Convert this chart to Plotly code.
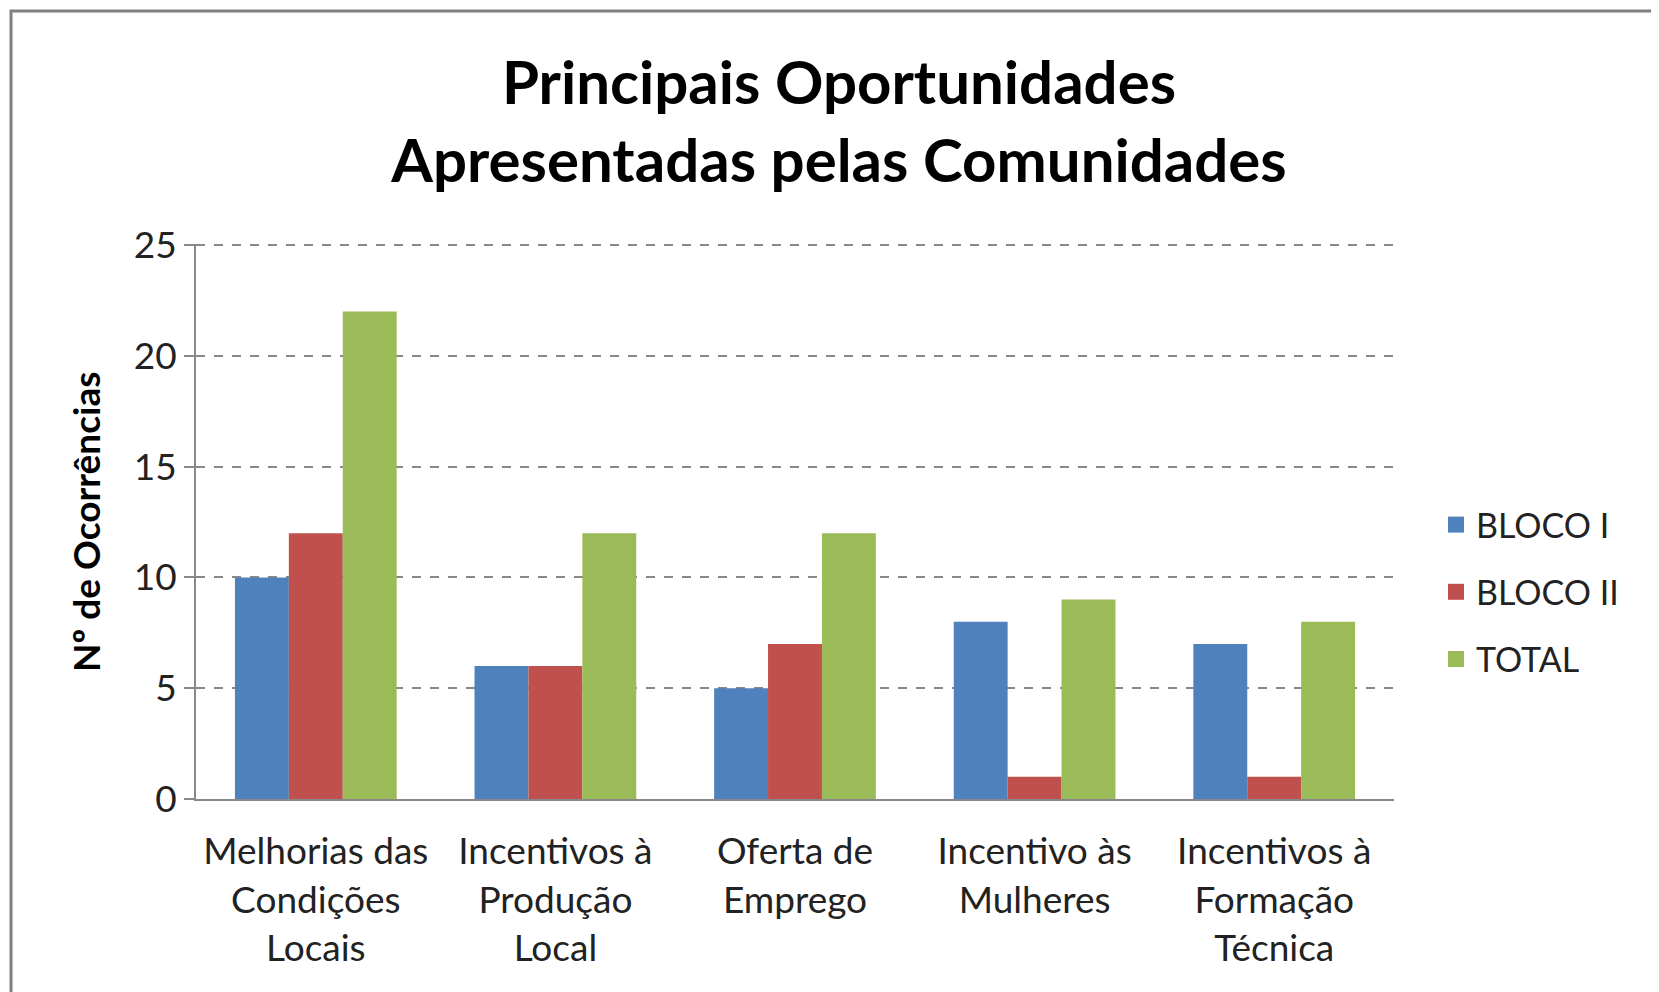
import plotly.graph_objects as go

categories = ["Melhorias das<br>Condições<br>Locais", "Incentivos à<br>Produção<br>Local",
              "Oferta de<br>Emprego", "Incentivo às<br>Mulheres", "Incentivos à<br>Formação<br>Técnica"]
bloco1 = [10, 6, 5, 8, 7]
bloco2 = [12, 6, 7, 1, 1]
total = [22, 12, 12, 9, 8]
series_names = ["BLOCO I", "BLOCO II", "TOTAL"]
colors = ["#4F81BD", "#C0504D", "#9BBB59"]
yticks = [0, 5, 10, 15, 20, 25]

W, H = 1659, 992
L, R, T, B = 188, 1386, 236, 791  # plot area in figure pixels

def px(x):
    return (x - L) / (R - L)

def py(y):
    return (B - y) / (B - T)

fig = go.Figure()
for name, vals, col in zip(series_names, [bloco1, bloco2, total], colors):
    fig.add_trace(go.Bar(x=categories, y=vals, name=name, marker_color=col,
                         marker_line_width=0, showlegend=False))
# legend entries with larger square symbols
for name, col in zip(series_names, colors):
    fig.add_trace(go.Scatter(x=[None], y=[None], mode="markers", name=name,
                             marker=dict(symbol="square", size=16, color=col),
                             legendgroup=name, showlegend=True))

font = "Lato, Calibri, Arial, sans-serif"
fig.update_layout(
    width=W, height=H,
    margin=dict(l=L, r=W - R, t=T, b=H - B),
    paper_bgcolor="white", plot_bgcolor="white",
    barmode="group", bargap=0.325, bargroupgap=0,
    font=dict(family=font, size=34, color="#222"),
    title=dict(text="<b>Principais Oportunidades<br>Apresentadas pelas Comunidades</b>",
               x=831 / W, xanchor="center", y=1 - 96 / H, yanchor="middle",
               font=dict(family=font, size=60, color="black")),
    showlegend=True,
    legend=dict(x=px(1428), xanchor="left", y=py(488), yanchor="top",
                traceorder="grouped", tracegroupgap=20,
                font=dict(family=font, size=34, color="#222"),
                bgcolor="rgba(0,0,0,0)"),
    xaxis=dict(showgrid=False, showline=True, linecolor="#888", linewidth=2,
               ticks="", tickfont=dict(size=37, color="#222"), ticklabelstandoff=19),
    yaxis=dict(range=[0, 25.05], tickvals=yticks, showgrid=True, gridcolor="#888",
               griddash="dash", gridwidth=1.5, showline=True, linecolor="#888", linewidth=2,
               ticks="outside", ticklen=10, tickcolor="#888", tickwidth=1.5,
               tickfont=dict(size=37, color="#222"), zeroline=False),
    annotations=[dict(text="<b>Nº de Ocorrências</b>", textangle=-90, xref="paper", yref="paper",
                      x=px(77), y=py(514), xanchor="center", yanchor="middle", showarrow=False,
                      font=dict(family=font, size=37, color="black"))],
    shapes=[dict(type="rect", xref="paper", yref="paper", x0=px(3), y0=py(1005),
                 x1=px(1670), y1=py(3), line=dict(color="#808080", width=3), layer="below")],
)

fig.write_html("out.html")
